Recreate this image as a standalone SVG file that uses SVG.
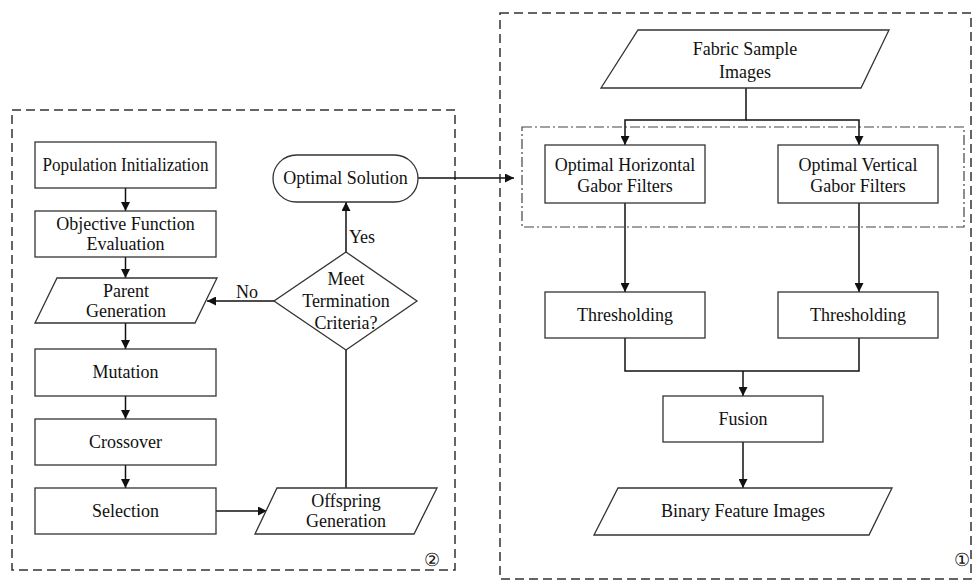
<svg xmlns="http://www.w3.org/2000/svg" width="974" height="580" viewBox="0 0 974 580">
<style>
.n{fill:#fff;stroke:#333;stroke-width:1.3}
text{font-family:'Liberation Serif','Times New Roman',Times,serif;font-size:18px;fill:#111;text-anchor:middle}
.c{fill:none;stroke:#111;stroke-width:1.5}
.dash{fill:none;stroke:#333;stroke-width:1.5;stroke-dasharray:9 5}
.dd{fill:none;stroke:#444;stroke-width:1.2;stroke-dasharray:10 3 2 3}
</style>
<defs>
<marker id="ah" viewBox="0 0 10 10" refX="10" refY="5" markerWidth="9" markerHeight="9" markerUnits="userSpaceOnUse" orient="auto">
<path d="M0,0 L10,5 L0,10 z" fill="#111"/>
</marker>
</defs>
<rect width="974" height="580" fill="#fff"/>
<g id="frames">
<rect class="dash" x="12" y="110" width="443" height="460"/>
<rect class="dash" x="500" y="13" width="471" height="566"/>
<rect class="dd" x="522" y="127" width="442" height="100"/>
</g>
<g id="connectors">
<line class="c" x1="125.5" y1="188" x2="125.5" y2="211" marker-end="url(#ah)"/>
<line class="c" x1="125.5" y1="257" x2="125.5" y2="278" marker-end="url(#ah)"/>
<line class="c" x1="125.5" y1="323" x2="125.5" y2="349" marker-end="url(#ah)"/>
<line class="c" x1="125.5" y1="396" x2="125.5" y2="419" marker-end="url(#ah)"/>
<line class="c" x1="125.5" y1="465" x2="125.5" y2="488" marker-end="url(#ah)"/>
<line class="c" x1="216" y1="511" x2="267" y2="511" marker-end="url(#ah)"/>
<line class="c" x1="346" y1="488" x2="346" y2="350"/>
<line class="c" x1="346" y1="252" x2="346" y2="202" marker-end="url(#ah)"/>
<line class="c" x1="274" y1="301" x2="207" y2="301" marker-end="url(#ah)"/>
<line class="c" x1="418" y1="178" x2="514" y2="178" marker-end="url(#ah)"/>
<polyline class="c" points="746,88 746,120 625,120 625,145" marker-end="url(#ah)"/>
<polyline class="c" points="746,120 859,120 859,145" marker-end="url(#ah)"/>
<line class="c" x1="625" y1="203" x2="625" y2="292" marker-end="url(#ah)"/>
<line class="c" x1="859" y1="203" x2="859" y2="292" marker-end="url(#ah)"/>
<polyline class="c" points="625,338 625,371 859,371 859,338"/>
<line class="c" x1="743" y1="371" x2="743" y2="396" marker-end="url(#ah)"/>
<line class="c" x1="743" y1="442" x2="743" y2="488" marker-end="url(#ah)"/>
<text x="362" y="243">Yes</text>
<text x="247" y="298">No</text>
</g>
<g id="pop">
<rect class="n" x="35" y="142" width="181" height="46"/>
<text x="125.5" y="171" textLength="166" lengthAdjust="spacingAndGlyphs">Population Initialization</text>
</g>
<g id="obj">
<rect class="n" x="35" y="211" width="181" height="46"/>
<text x="125.5" y="230">Objective Function</text>
<text x="125.5" y="250">Evaluation</text>
</g>
<g id="parent">
<polygon class="n" points="57,278 217,278 195,323 35,323"/>
<text x="126" y="297">Parent</text>
<text x="126" y="317">Generation</text>
</g>
<g id="mutation">
<rect class="n" x="35" y="349" width="181" height="47"/>
<text x="125.5" y="378">Mutation</text>
</g>
<g id="crossover">
<rect class="n" x="35" y="419" width="181" height="46"/>
<text x="125.5" y="448">Crossover</text>
</g>
<g id="selection">
<rect class="n" x="35" y="488" width="181" height="46"/>
<text x="125.5" y="517">Selection</text>
</g>
<g id="offspring">
<polygon class="n" points="277,488 437,488 414,534 255,534"/>
<text x="346" y="507">Offspring</text>
<text x="346" y="527">Generation</text>
</g>
<g id="decision">
<polygon class="n" points="346,252 417,301 346,350 274,301"/>
<text x="346" y="285">Meet</text>
<text x="346" y="307">Termination</text>
<text x="346" y="329">Criteria?</text>
</g>
<g id="optimal">
<rect class="n" x="273" y="155" width="145" height="47" rx="23.5"/>
<text x="345.5" y="184">Optimal Solution</text>
</g>
<g id="label2"><text x="432" y="566" style="font-size:18px">②</text></g>
<g id="fabric">
<polygon class="n" points="638,30 889,30 861,88 601,88"/>
<text x="745" y="55">Fabric Sample</text>
<text x="745" y="78">Images</text>
</g>
<g id="ohg">
<rect class="n" x="545" y="145" width="160" height="58"/>
<text x="625" y="171">Optimal Horizontal</text>
<text x="625" y="192">Gabor Filters</text>
</g>
<g id="ovg">
<rect class="n" x="778" y="145" width="160" height="58"/>
<text x="858" y="171">Optimal Vertical</text>
<text x="858" y="192">Gabor Filters</text>
</g>
<g id="th1">
<rect class="n" x="545" y="292" width="160" height="46"/>
<text x="625" y="321">Thresholding</text>
</g>
<g id="th2">
<rect class="n" x="778" y="292" width="160" height="46"/>
<text x="858" y="321">Thresholding</text>
</g>
<g id="fusion">
<rect class="n" x="663" y="396" width="160" height="46"/>
<text x="743" y="425">Fusion</text>
</g>
<g id="binary">
<polygon class="n" points="618,488 892,488 869,535 594,535"/>
<text x="743" y="517">Binary Feature Images</text>
</g>
<g id="label1"><text x="962" y="566" style="font-size:18px">①</text></g>
</svg>
